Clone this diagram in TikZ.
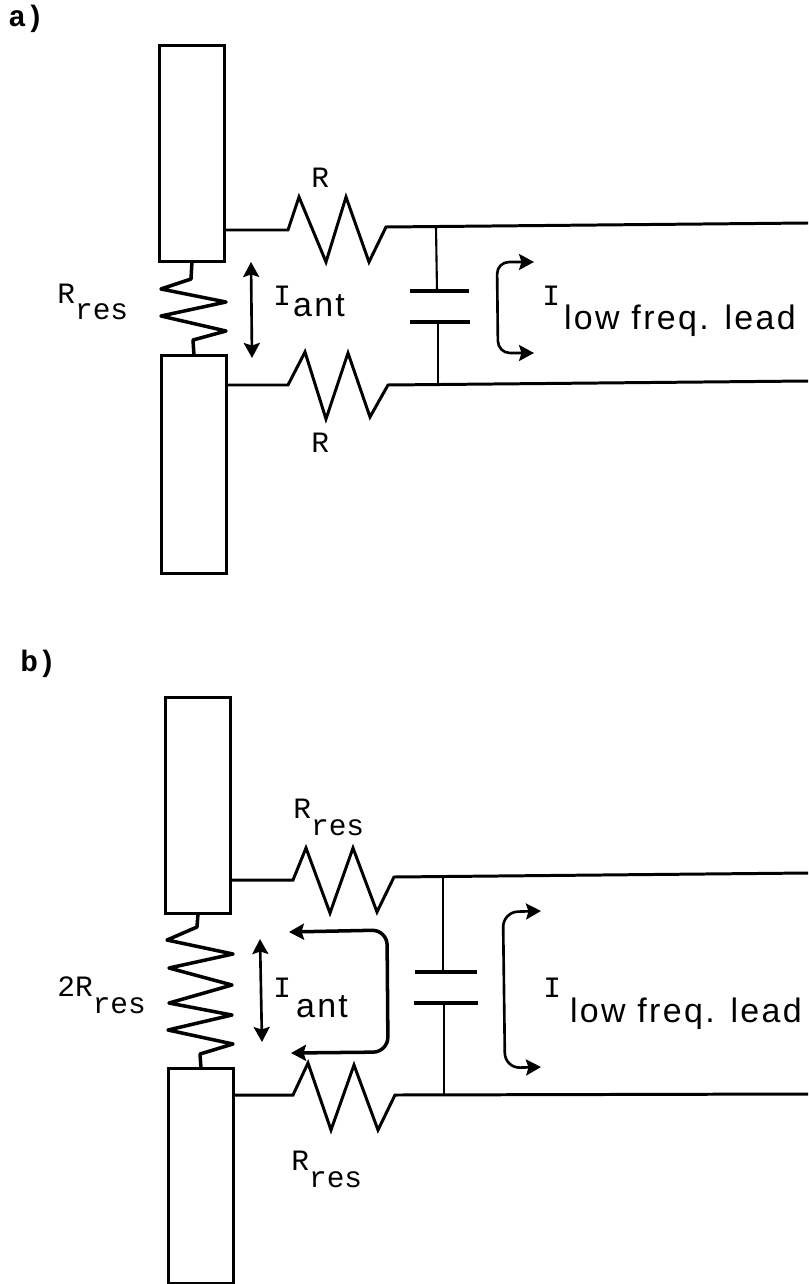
\documentclass[tikz,border=0pt]{standalone}
\usepackage{fontspec}
\setmainfont{Liberation Sans}
\setmonofont{Liberation Mono}
\newfontfamily\leadfont[LetterSpace=7]{Liberation Sans}
\usetikzlibrary{arrows.meta}
\tikzset{
  thinwire/.style={line width=1.2pt,line join=miter},
  wire/.style={line width=1.7pt,line join=miter},
  reswire/.style={line width=2pt,line join=round},
  antenna/.style={draw,line width=1.6pt,minimum width=1.3cm,inner sep=0pt,anchor=north west},
  current/.style={line width=1.5pt,rounded corners=0.3cm,{Stealth[length=3mm,width=3.2mm,inset=0.5mm]}-{Stealth[length=3mm,width=3.2mm,inset=0.5mm]}},
  plate/.style={line width=2.2pt},
  lbl/.style={inner sep=0pt,anchor=base west,font=\fontsize{16.8}{18}\selectfont\ttfamily},
  tag/.style={inner sep=0pt,anchor=base west,font=\fontsize{16.8}{18}\selectfont\ttfamily\bfseries}
}
\newcommand{\lowres}{\raisebox{-0.34cm}{res}}
\newcommand{\sanstxt}[1]{{\leadfont\fontsize{19.3}{21}\selectfont #1}}
\begin{document}
\begin{tikzpicture}[x=0.02cm,y=-0.02cm]
\useasboundingbox (0,0) rectangle (808,1284);
% a)
\node[tag] (taga) at (8,27) {a)};
\node[antenna,minimum height=4.32cm] (upa) at (158,44) {};
\node[antenna,minimum height=4.36cm] (loa) at (160,354) {};
\coordinate (a1) at (225,230);
\coordinate (a2) at (386,227);
\coordinate (a3) at (808,223);
\coordinate (a4) at (226,385);
\coordinate (a5) at (388,385);
\coordinate (a6) at (808,381);
\coordinate (a7) at (436,227);
\coordinate (a8) at (437,291);
\coordinate (a9) at (438,322);
\coordinate (a10) at (438,383);
\draw[wire] (a1) -- (288,230) -- (299,197) -- (326,262) -- (346,197) -- (369,262) -- (a2) -- (a3);
\draw[wire] (a4) -- (288,385) -- (305,352) -- (326,419) -- (348,353) -- (370,417) -- (a5) -- (a6);
\draw[thinwire] (a7) -- (a8);
\draw[thinwire] (a9) -- (a10);
\draw[plate] (410,291) -- (469,291);
\draw[plate] (410,322) -- (470,322);
\draw[reswire] (upa.south) -- (191,279) -- (161,289) -- (226,302) -- (161,316) -- (226,331) -- (193,340) -- (loa.north);
\draw[current] (251,262) -- (252,358);
\draw[current,rounded corners=0.24cm] (534,262) -- (497,262) -- (498,353) -- (534,353);
\node[lbl] (ra) at (311,188) {R};
\node[lbl] (rb) at (311,452) {R};
\node[lbl] (rresa) at (57,303) {R\lowres};
\node[lbl] (ianta) at (273,305) {I\hspace{0.04cm}\raisebox{-0.24cm}{\sanstxt{ant}}};
\node[lbl] (ileada) at (542,305) {I\hspace{0.08cm}\raisebox{-0.5cm}{\sanstxt{low freq. lead}}};
% b)
\node[tag] (tagb) at (20,671) {b)};
\node[antenna,minimum height=4.32cm] (upb) at (164,696) {};
\node[antenna,minimum height=4.3cm] (lob) at (167,1067) {};
\coordinate (b1) at (230,880);
\coordinate (b2) at (394,877);
\coordinate (b3) at (808,873);
\coordinate (b4) at (232,1095);
\coordinate (b5) at (395,1095);
\coordinate (b6) at (808,1094);
\coordinate (b7) at (443,877);
\coordinate (b8) at (443,972);
\coordinate (b9) at (444,1003);
\coordinate (b10) at (444,1095);
\draw[wire] (b1) -- (293,880) -- (306,848) -- (330,913) -- (353,848) -- (377,912) -- (b2) -- (b3);
\draw[wire] (b4) -- (293,1095) -- (308,1063) -- (331,1130) -- (354,1065) -- (378,1130) -- (b5) -- (b6);
\draw[thinwire] (b7) -- (b8);
\draw[thinwire] (b9) -- (b10);
\draw[plate] (415,972) -- (477,972);
\draw[plate] (414,1003) -- (478,1003);
\draw[reswire] (upb.south) -- (197,927) -- (167,940) -- (233,954) -- (169,968) -- (232,985) -- (169,1003) -- (232,1015) -- (168,1030) -- (233,1044) -- (200,1054) -- (lob.north);
\draw[current] (260,939) -- (262,1042);
\draw[current,line width=2pt] (289,932) -- (387,930) -- (388,1052) -- (291,1053);
\draw[current] (541,911) -- (503,912) -- (505,1068) -- (541,1067);
\node[lbl] (rc) at (293,818) {R\lowres};
\node[lbl] (rd) at (291,1170) {R\lowres};
\node[lbl] (rrese) at (57,996) {2R\lowres};
\node[lbl] (iantb) at (273,997) {I\hspace{0.1cm}\raisebox{-0.4cm}{\sanstxt{ant}}};
\node[lbl] (ileadb) at (543,997) {I\hspace{0.18cm}\raisebox{-0.5cm}{\sanstxt{low freq. lead}}};
\end{tikzpicture}
\end{document}
